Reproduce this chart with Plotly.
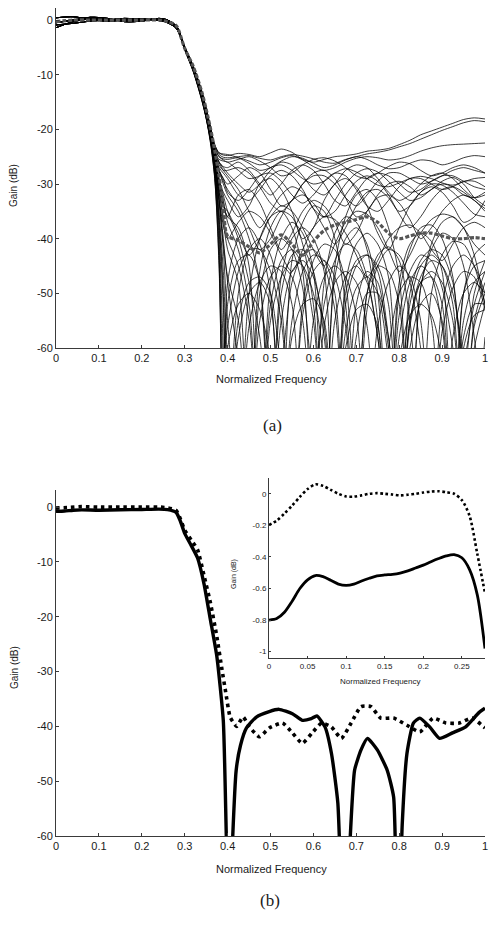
import plotly.graph_objects as go

# page is shown with an 8px body margin; figure sized to fit inside the window
OFF = 8
W, H = 497 - 2 * OFF, 931 - 2 * OFF

# ---------------- (a) Monte-Carlo responses ----------------
A_PB_X = [0.0, 0.04, 0.08, 0.12, 0.16, 0.20, 0.24, 0.26, 0.28]
A_TR_X = [0.30, 0.32, 0.34, 0.35, 0.36, 0.37, 0.38, 0.39]
A_SB_X = [0.400, 0.425, 0.450, 0.475, 0.500, 0.525, 0.550, 0.575, 0.600,
          0.625, 0.650, 0.675, 0.700, 0.725, 0.750, 0.775, 0.800, 0.825,
          0.850, 0.875, 0.900, 0.925, 0.950, 0.975, 1.000]

A_PASSBANDS = [
    [-1.4, -0.3, 0.2, 0.1, -0.1, 0.0, 0.2, -0.2, -1.3],
    [0.4, 0.6, 0.1, -0.2, 0.0, 0.2, -0.1, -0.4, -1.0],
    [-0.5, 0.0, 0.5, 0.3, -0.3, -0.2, 0.3, 0.0, -1.1],
    [-0.9, -0.6, -0.2, 0.0, 0.3, 0.1, 0.0, -0.5, -1.5],
]

A_CURVE_PB = [0, 1, 2, 3, 0, 1, 2, 3, 0, 1, 2, 3, 0, 1, 2, 3, 0, 1, 2, 3, 0, 1, 2, 3, 0,
              1, 2, 3, 0, 1, 2, 3, 0, 1, 2]

A_CURVE_TR = [
    [-4.9, -8.5, -13.1, -16.2, -19.6, -22.8, -24.3, -24.7],
    [-4.8, -8.4, -13.0, -16.1, -19.5, -22.9, -24.6, -25.1],
    [-5.0, -8.6, -13.3, -16.4, -19.9, -23.3, -25.0, -25.4],
    [-4.9, -8.5, -13.2, -16.3, -19.7, -22.9, -24.3, -24.5],
    [-5.1, -8.8, -13.6, -16.7, -20.3, -24.0, -25.5, -25.8],
    [-5.0, -8.9, -13.8, -17.0, -20.6, -24.6, -27.5, -29.0],
    [-5.2, -9.0, -14.0, -17.2, -21.0, -25.5, -29.5, -31.5],
    [-5.1, -8.8, -13.7, -16.9, -20.8, -25.2, -30.0, -33.5],
    [-4.9, -8.6, -13.4, -16.5, -20.0, -23.8, -26.0, -27.5],
    [-5.3, -9.2, -14.3, -17.5, -21.6, -27.0, -33.0, -37.5],
    [-5.0, -8.7, -13.5, -16.6, -20.3, -24.5, -27.5, -29.5],
    [-5.2, -9.1, -14.2, -17.4, -21.3, -26.3, -31.5, -34.0],
    [-5.0, -8.7, -13.4, -16.5, -20.1, -24.2, -26.0, -26.8],
    [-5.1, -8.8, -13.6, -16.7, -20.4, -24.6, -27.0, -28.0],
    [-5.4, -9.3, -14.5, -17.8, -21.8, -27.5, -38.0, -60.0],
    [-5.3, -9.1, -14.2, -17.4, -21.0, -26.0, -33.0, -42.0],
    [-5.1, -9.0, -14.0, -17.1, -20.8, -25.0, -30.0, -34.0],
    [-5.5, -9.5, -14.8, -18.0, -22.5, -29.0, -45.0, -75.0],
    [-5.0, -8.8, -13.8, -16.8, -20.2, -24.0, -27.5, -30.0],
    [-5.3, -9.2, -14.4, -17.6, -21.5, -27.0, -36.0, -50.0],
    [-5.2, -9.0, -14.1, -17.2, -21.0, -25.8, -31.0, -37.0],
    [-5.4, -9.4, -14.6, -17.9, -22.0, -28.5, -42.0, -75.0],
    [-5.1, -8.8, -13.6, -16.7, -20.4, -25.2, -32.0, -40.0],
    [-5.0, -8.6, -13.3, -16.4, -20.0, -24.5, -29.0, -33.0],
    [-5.3, -9.2, -14.5, -17.8, -22.0, -28.0, -40.0, -62.0],
    [-4.9, -8.5, -13.2, -16.3, -19.7, -23.2, -25.0, -25.6],
    [-5.0, -8.6, -13.3, -16.4, -20.0, -23.8, -26.0, -27.0],
    [-5.1, -8.8, -13.6, -16.7, -20.4, -24.6, -27.5, -29.0],
    [-5.0, -8.7, -13.5, -16.6, -20.2, -24.3, -26.5, -27.5],
    [-5.3, -9.2, -14.4, -17.7, -21.8, -27.5, -37.0, -52.0],
    [-5.2, -9.0, -14.0, -17.2, -21.0, -26.2, -33.0, -41.0],
    [-5.4, -9.4, -14.7, -18.0, -22.3, -29.0, -44.0, -75.0],
    [-5.1, -8.9, -13.9, -17.0, -20.7, -25.5, -31.0, -36.0],
    [-5.2, -9.1, -14.2, -17.4, -21.3, -26.8, -35.0, -46.0],
    [-5.0, -8.7, -13.5, -16.6, -20.3, -24.8, -29.0, -32.0],
]

A_CURVE_SB = [
    [-24.8, -24.4, -24.6, -25.0, -24.3, -23.6, -24.2, -25.5, -26.0, -25.5, -25.0, -24.8, -24.5, -24.0, -23.8, -23.5, -22.8, -22.0, -21.0, -20.3, -19.6, -18.9, -18.2, -17.9, -18.1],
    [-25.2, -25.0, -24.8, -25.3, -25.6, -25.0, -24.6, -24.9, -25.4, -26.0, -26.2, -25.5, -25.0, -24.5, -24.2, -23.8, -23.2, -22.6, -21.8, -21.0, -20.2, -19.5, -18.8, -18.4, -18.6],
    [-25.5, -25.2, -25.8, -26.5, -26.0, -25.2, -24.8, -25.6, -26.8, -27.5, -27.0, -26.0, -25.3, -25.0, -25.2, -25.6, -25.4, -24.8, -24.0, -23.4, -23.0, -22.8, -22.7, -22.6, -22.5],
    [-24.6, -25.2, -26.2, -27.5, -27.0, -25.8, -25.0, -25.3, -26.2, -27.0, -26.5, -25.6, -25.0, -25.5, -26.5, -27.2, -27.0, -26.2, -25.6, -25.8, -26.5, -26.0, -25.2, -24.8, -25.0],
    [-26.0, -27.5, -29.0, -28.5, -27.0, -26.5, -27.5, -29.0, -30.0, -29.5, -28.0, -27.2, -27.8, -29.0, -30.2, -30.5, -29.8, -29.0, -28.6, -29.0, -29.8, -30.2, -29.6, -29.0, -28.8],
    [-30.0, -28.5, -27.0, -28.0, -31.0, -34.0, -33.0, -30.0, -28.0, -27.5, -29.0, -32.5, -36.0, -35.0, -32.0, -30.0, -29.5, -30.5, -32.0, -31.0, -29.5, -28.8, -30.0, -32.5, -34.0],
    [-33.0, -36.0, -34.0, -30.0, -29.0, -31.0, -35.0, -40.0, -38.0, -33.0, -30.0, -29.0, -30.5, -34.0, -39.0, -42.0, -38.0, -34.0, -31.5, -30.5, -31.5, -34.0, -37.0, -36.0, -33.0],
    [-36.0, -32.0, -31.0, -33.5, -38.0, -42.0, -39.0, -35.0, -33.0, -34.0, -37.0, -41.0, -39.0, -35.0, -32.5, -32.0, -33.5, -36.5, -40.0, -38.0, -35.0, -33.0, -32.0, -33.0, -35.0],
    [-28.5, -31.0, -35.0, -38.0, -35.0, -32.0, -30.5, -31.5, -34.5, -38.0, -41.0, -38.0, -34.0, -31.5, -31.0, -32.5, -35.0, -34.0, -31.5, -30.0, -30.2, -31.5, -33.5, -35.5, -36.0],
    [-40.0, -37.0, -35.0, -36.0, -39.0, -43.0, -46.0, -42.0, -38.0, -36.0, -36.5, -39.0, -43.0, -47.0, -44.0, -40.0, -38.0, -37.5, -39.0, -42.0, -44.0, -41.0, -38.0, -37.0, -38.0],
    [-31.0, -34.0, -38.0, -42.0, -40.0, -36.0, -33.0, -32.0, -33.5, -36.0, -35.0, -32.0, -29.5, -28.5, -29.5, -32.0, -35.5, -38.0, -36.0, -33.0, -31.0, -30.5, -31.5, -33.0, -34.5],
    [-35.0, -39.0, -43.0, -40.0, -36.0, -34.0, -35.0, -38.0, -42.0, -45.0, -41.0, -37.0, -35.0, -35.5, -38.0, -42.0, -46.0, -43.0, -39.0, -36.5, -35.5, -36.0, -38.0, -41.0, -43.0],
    [-27.0, -26.0, -27.5, -30.0, -32.0, -30.0, -27.5, -26.5, -27.5, -30.0, -33.0, -34.0, -31.5, -29.0, -28.0, -28.5, -30.0, -31.5, -31.0, -29.5, -28.5, -28.5, -29.5, -30.5, -31.0],
    [-29.0, -32.0, -33.0, -31.0, -28.5, -27.5, -28.5, -31.0, -34.5, -36.0, -33.0, -30.0, -28.0, -27.2, -27.8, -29.5, -31.5, -33.0, -32.5, -31.0, -30.0, -30.5, -32.0, -32.5, -31.5],
    [-75.0, -50.0, -42.0, -40.0, -43.0, -52.0, -75.0, -52.0, -44.0, -41.0, -42.0, -48.0, -70.0, -50.0, -43.0, -41.5, -44.0, -55.0, -75.0, -50.0, -43.0, -40.5, -41.0, -45.0, -52.0],
    [-55.0, -75.0, -50.0, -40.0, -36.0, -35.0, -38.0, -46.0, -75.0, -48.0, -39.0, -36.0, -37.0, -42.0, -55.0, -75.0, -50.0, -42.0, -38.0, -37.5, -40.0, -47.0, -65.0, -50.0, -44.0],
    [-36.0, -38.0, -45.0, -75.0, -48.0, -40.0, -37.0, -39.0, -46.0, -75.0, -47.0, -40.0, -38.0, -41.0, -50.0, -75.0, -48.0, -41.0, -39.0, -40.5, -46.0, -75.0, -50.0, -43.0, -41.0],
    [-52.0, -44.0, -43.0, -48.0, -75.0, -50.0, -43.0, -42.0, -46.0, -58.0, -75.0, -48.0, -41.0, -39.0, -41.0, -47.0, -70.0, -52.0, -45.0, -43.0, -45.0, -52.0, -75.0, -55.0, -48.0],
    [-32.0, -35.0, -40.0, -48.0, -75.0, -47.0, -40.0, -38.0, -40.0, -46.0, -75.0, -50.0, -44.0, -43.0, -46.0, -58.0, -75.0, -50.0, -44.0, -42.0, -43.0, -48.0, -62.0, -52.0, -46.0],
    [-75.0, -55.0, -48.0, -47.0, -50.0, -62.0, -48.0, -43.0, -42.0, -45.0, -53.0, -75.0, -52.0, -46.0, -48.0, -60.0, -75.0, -55.0, -48.0, -47.0, -52.0, -75.0, -50.0, -45.0, -44.0],
    [-42.0, -48.0, -75.0, -46.0, -38.0, -35.0, -36.0, -41.0, -52.0, -75.0, -45.0, -36.0, -32.0, -31.0, -33.0, -38.0, -47.0, -75.0, -49.0, -42.0, -39.0, -40.0, -45.0, -58.0, -75.0],
    [-48.0, -40.0, -38.0, -41.0, -50.0, -75.0, -44.0, -37.0, -34.0, -35.0, -40.0, -52.0, -75.0, -50.0, -45.0, -46.0, -52.0, -75.0, -49.0, -41.0, -37.0, -36.0, -38.0, -43.0, -52.0],
    [-48.0, -62.0, -75.0, -50.0, -42.0, -40.0, -42.0, -49.0, -65.0, -52.0, -44.0, -41.0, -42.0, -47.0, -58.0, -75.0, -54.0, -46.0, -43.0, -44.0, -49.0, -60.0, -75.0, -56.0, -50.0],
    [-37.0, -42.0, -52.0, -75.0, -52.0, -44.0, -42.0, -45.0, -55.0, -75.0, -55.0, -47.0, -45.0, -48.0, -58.0, -75.0, -58.0, -48.0, -45.0, -47.0, -56.0, -75.0, -55.0, -48.0, -46.0],
    [-56.0, -46.0, -42.0, -42.0, -46.0, -55.0, -75.0, -54.0, -46.0, -44.0, -47.0, -56.0, -75.0, -53.0, -45.0, -42.0, -43.0, -48.0, -60.0, -75.0, -52.0, -45.0, -43.0, -45.0, -50.0],
    [-26.0, -25.5, -25.0, -25.8, -27.0, -28.5, -28.0, -26.5, -25.5, -25.2, -25.8, -27.0, -28.5, -29.0, -28.0, -26.8, -26.0, -26.3, -27.5, -28.5, -28.0, -27.0, -26.5, -27.0, -28.0],
    [-28.0, -30.0, -31.5, -30.0, -27.5, -26.0, -26.5, -28.5, -31.0, -32.0, -30.0, -27.5, -26.5, -27.0, -29.0, -31.5, -33.0, -32.0, -30.0, -28.5, -28.0, -29.0, -31.0, -32.5, -32.0],
    [-31.5, -33.0, -31.0, -28.5, -28.0, -29.5, -32.0, -33.5, -32.0, -29.5, -28.0, -28.5, -31.0, -34.0, -35.0, -33.0, -30.5, -29.0, -29.0, -30.0, -31.0, -30.5, -29.5, -29.5, -30.5],
    [-27.5, -27.0, -28.0, -30.5, -33.5, -35.0, -33.0, -30.0, -28.5, -28.5, -30.0, -32.5, -34.0, -32.0, -29.5, -28.0, -28.0, -29.0, -30.0, -29.5, -28.5, -27.5, -27.0, -27.5, -28.0],
    [-75.0, -58.0, -50.0, -48.0, -52.0, -75.0, -55.0, -46.0, -43.0, -44.0, -50.0, -75.0, -58.0, -50.0, -50.0, -58.0, -75.0, -60.0, -52.0, -50.0, -55.0, -75.0, -58.0, -52.0, -52.0],
    [-47.0, -55.0, -75.0, -55.0, -47.0, -45.0, -47.0, -55.0, -75.0, -56.0, -48.0, -46.0, -48.0, -56.0, -75.0, -60.0, -50.0, -47.0, -48.0, -55.0, -75.0, -58.0, -50.0, -48.0, -50.0],
    [-60.0, -52.0, -50.0, -53.0, -62.0, -75.0, -58.0, -52.0, -51.0, -55.0, -75.0, -60.0, -53.0, -52.0, -56.0, -75.0, -62.0, -54.0, -52.0, -54.0, -62.0, -75.0, -60.0, -54.0, -53.0],
    [-40.0, -45.0, -55.0, -75.0, -55.0, -47.0, -44.0, -45.0, -50.0, -62.0, -75.0, -52.0, -45.0, -43.0, -45.0, -52.0, -75.0, -55.0, -47.0, -44.0, -45.0, -50.0, -62.0, -75.0, -58.0],
    [-62.0, -75.0, -56.0, -48.0, -45.0, -46.0, -52.0, -75.0, -55.0, -47.0, -45.0, -47.0, -54.0, -75.0, -56.0, -48.0, -45.0, -47.0, -55.0, -75.0, -57.0, -49.0, -46.0, -47.0, -53.0],
    [-35.0, -40.0, -48.0, -58.0, -75.0, -55.0, -46.0, -44.0, -47.0, -56.0, -75.0, -57.0, -49.0, -47.0, -50.0, -62.0, -75.0, -56.0, -48.0, -46.0, -48.0, -55.0, -75.0, -60.0, -52.0],
]

# gray (nominal) curve of (a)
A_NOM_PB = [-0.3, 0.0, 0.0, 0.0, 0.0, 0.0, 0.0, -0.3, -1.0]
A_NOM_TR = [-5.2, -8.5, -13.2, -16.3, -19.8, -23.8, -28.5, -34.3]
A_NOM_SB = [-39.5, -40.3, -41.5, -42.6, -41.0, -39.3, -41.0, -43.0, -40.5,
            -38.5, -37.5, -37.0, -36.5, -36.0, -37.0, -39.0, -40.0, -39.5,
            -39.0, -39.0, -39.5, -40.0, -40.0, -39.8, -40.0]

# ---------------- (b) two designs ----------------
B_SOLID_X = [0.0, 0.02, 0.04, 0.06, 0.10, 0.15, 0.20, 0.24, 0.26, 0.28, 0.29,
             0.30, 0.315, 0.33, 0.345, 0.36, 0.375, 0.39, 0.397, 0.404, 0.412,
             0.42, 0.43, 0.444, 0.467, 0.497, 0.52, 0.551, 0.574, 0.595, 0.608,
             0.627, 0.642, 0.657, 0.672, 0.686, 0.696, 0.711, 0.726, 0.749,
             0.772, 0.787, 0.797, 0.807, 0.818, 0.833, 0.848, 0.871, 0.894,
             0.924, 0.955, 0.986, 1.0]
B_SOLID_Y = [-0.8, -0.74, -0.58, -0.52, -0.58, -0.515, -0.45, -0.385, -0.48,
             -0.98, -2.6, -4.8, -7.0, -9.3, -14.0, -20.6, -27.3, -39.0, -60.0,
             -80.0, -60.0, -48.0, -43.5, -40.3, -38.3, -37.3, -36.9, -37.7,
             -38.9, -38.6, -38.1, -40.1, -44.9, -54.0, -85.0, -60.0, -48.0,
             -44.3, -42.2, -44.3, -48.0, -52.9, -85.0, -58.0, -45.0, -39.4,
             -38.5, -40.1, -42.2, -41.2, -40.1, -37.5, -36.7]

B_DOT_X = [0.0, 0.03, 0.06, 0.10, 0.15, 0.20, 0.24, 0.26, 0.28, 0.29, 0.30,
           0.315, 0.33, 0.345, 0.36, 0.375, 0.387, 0.395, 0.406, 0.421, 0.436,
           0.451, 0.474, 0.497, 0.528, 0.551, 0.574, 0.597, 0.619, 0.642,
           0.665, 0.688, 0.711, 0.734, 0.757, 0.787, 0.818, 0.848, 0.879,
           0.909, 0.94, 0.97, 1.0]
B_DOT_Y = [-0.2, -0.08, 0.06, -0.02, 0.0, 0.0, 0.0, -0.15, -0.63, -2.2, -4.2,
           -6.0, -7.8, -12.5, -17.5, -23.7, -29.7, -33.5, -38.3, -40.0, -38.3,
           -40.1, -41.9, -40.3, -39.4, -41.2, -43.1, -41.2, -39.4, -40.1,
           -42.2, -39.4, -36.4, -36.4, -38.5, -38.5, -39.8, -41.0, -38.5,
           -39.4, -39.4, -38.5, -40.3]

# inset (passband zoom)
IN_X = [0.00, 0.01, 0.02, 0.03, 0.04, 0.05, 0.06, 0.07, 0.08, 0.09, 0.10,
        0.11, 0.12, 0.13, 0.14, 0.15, 0.16, 0.17, 0.18, 0.19, 0.20, 0.21,
        0.22, 0.23, 0.24, 0.25, 0.26, 0.27, 0.28]
IN_SOLID = [-0.80, -0.79, -0.75, -0.68, -0.60, -0.545, -0.518, -0.525, -0.548,
            -0.572, -0.580, -0.572, -0.552, -0.535, -0.520, -0.514, -0.510,
            -0.502, -0.488, -0.470, -0.452, -0.430, -0.410, -0.393, -0.385,
            -0.405, -0.480, -0.640, -0.980]
IN_DOT = [-0.197, -0.17, -0.125, -0.075, -0.02, 0.03, 0.06, 0.05, 0.025, 0.0,
          -0.017, -0.018, -0.01, 0.0, 0.004, 0.0, -0.005, -0.01, -0.006, 0.0,
          0.008, 0.014, 0.016, 0.01, 0.0, -0.04, -0.14, -0.38, -0.63]

MAIN_XTICKS = [0, 0.1, 0.2, 0.3, 0.4, 0.5, 0.6, 0.7, 0.8, 0.9, 1]
MAIN_XLABELS = ["0", "0.1", "0.2", "0.3", "0.4", "0.5", "0.6", "0.7", "0.8", "0.9", "1"]
MAIN_YTICKS = [0, -10, -20, -30, -40, -50, -60]
MAIN_YLABELS = ["0", "-10", "-20", "-30", "-40", "-50", "-60"]
IN_XTICKS = [0, 0.05, 0.1, 0.15, 0.2, 0.25]
IN_XLABELS = ["0", "0.05", "0.1", "0.15", "0.2", "0.25"]
IN_YTICKS = [0, -0.2, -0.4, -0.6, -0.8, -1]
IN_YLABELS = ["0", "-0.2", "-0.4", "-0.6", "-0.8", "-1"]


def px(xp):
    return min(1.0, max(0.0, (xp - OFF) / W))


def py(yp):
    return min(1.0, max(0.0, 1 - (yp - OFF) / H))


FONT = "Liberation Sans, Arial, sans-serif"
AXC = "#3a3a3a"
TXT = "#1a1a1a"

fig = go.Figure()

full_x = A_PB_X + A_TR_X + A_SB_X
for pb_i, tr, sb in zip(A_CURVE_PB, A_CURVE_TR, A_CURVE_SB):
    fig.add_trace(go.Scatter(
        x=full_x, y=A_PASSBANDS[pb_i] + tr + sb, mode="lines",
        line=dict(color="rgba(0,0,0,0.85)", width=0.9, shape="spline", smoothing=0.8),
        xaxis="x", yaxis="y", hoverinfo="skip", showlegend=False))

fig.add_trace(go.Scatter(
    x=full_x, y=A_NOM_PB + A_NOM_TR + A_NOM_SB, mode="lines",
    line=dict(color="#555555", width=3.2, dash="4px,2px", shape="spline", smoothing=0.8),
    xaxis="x", yaxis="y", showlegend=False))

fig.add_trace(go.Scatter(
    x=B_DOT_X, y=B_DOT_Y, mode="lines",
    line=dict(color="black", width=3.6, dash="3.5px,4px", shape="spline", smoothing=0.5),
    xaxis="x2", yaxis="y2", showlegend=False))
fig.add_trace(go.Scatter(
    x=B_SOLID_X, y=B_SOLID_Y, mode="lines",
    line=dict(color="black", width=3.4, shape="spline", smoothing=0.5),
    xaxis="x2", yaxis="y2", showlegend=False))

fig.add_trace(go.Scatter(
    x=IN_X, y=IN_DOT, mode="lines",
    line=dict(color="black", width=2.6, dash="2.6px,2.6px", shape="spline", smoothing=0.8),
    xaxis="x3", yaxis="y3", showlegend=False))
fig.add_trace(go.Scatter(
    x=IN_X, y=IN_SOLID, mode="lines",
    line=dict(color="black", width=2.8, shape="spline", smoothing=0.8),
    xaxis="x3", yaxis="y3", showlegend=False))

RIGHT = 485
main_x_dom = [px(56), px(RIGHT)]
ax_common = dict(showline=True, linecolor=AXC, linewidth=1, ticks="inside",
                 ticklen=3, tickcolor=AXC, showgrid=False, zeroline=False,
                 mirror=False, automargin=False, ticklabeloverflow="allow",
                 tickfont=dict(family=FONT, size=11, color=TXT))
in_common = dict(ax_common)
in_common["tickfont"] = dict(family=FONT, size=8, color=TXT)
in_common["ticklen"] = 2

fig.update_layout(
    width=W, height=H, autosize=False,
    margin=dict(l=0, r=0, t=0, b=0, autoexpand=False),
    paper_bgcolor="white", plot_bgcolor="white",
    xaxis=dict(domain=main_x_dom, range=[0, 1], tickvals=MAIN_XTICKS,
               ticktext=MAIN_XLABELS, anchor="y", **ax_common),
    yaxis=dict(domain=[py(348), py(8)], range=[-60, 2.2], tickvals=MAIN_YTICKS,
               ticktext=MAIN_YLABELS, anchor="x", **ax_common),
    xaxis2=dict(domain=main_x_dom, range=[0, 1], tickvals=MAIN_XTICKS,
                ticktext=MAIN_XLABELS, anchor="y2", **ax_common),
    yaxis2=dict(domain=[py(836), py(490)], range=[-60, 3.1], tickvals=MAIN_YTICKS,
                ticktext=MAIN_YLABELS, anchor="x2", **ax_common),
    xaxis3=dict(domain=[px(269), px(RIGHT)], range=[0, 0.28], tickvals=IN_XTICKS,
                ticktext=IN_XLABELS, anchor="y3", **in_common),
    yaxis3=dict(domain=[py(658), py(478)], range=[-1.04, 0.1], tickvals=IN_YTICKS,
                ticktext=IN_YLABELS, anchor="x3", **in_common),
)

ann = []


def add_text(text, x, y, size, family=FONT, angle=0):
    ann.append(dict(text=text, x=px(x), y=py(y), xref="paper", yref="paper",
                    showarrow=False, xanchor="center", yanchor="middle",
                    textangle=angle, font=dict(family=family, size=size, color=TXT)))


add_text("Normalized Frequency", 271, 379, 11)
add_text("Normalized Frequency", 271, 869, 11)
add_text("Normalized Frequency", 380, 681, 8)
add_text("Gain (dB)", 14, 186, 10, angle=-90)
add_text("Gain (dB)", 14, 668, 10, angle=-90)
add_text("Gain (dB)", 234, 574, 7, angle=-90)
add_text("(a)", 272, 425, 17, family="Liberation Serif, Times New Roman, serif")
add_text("(b)", 270, 900, 17, family="Liberation Serif, Times New Roman, serif")
fig.update_layout(annotations=ann)

fig.write_html("out.html")
